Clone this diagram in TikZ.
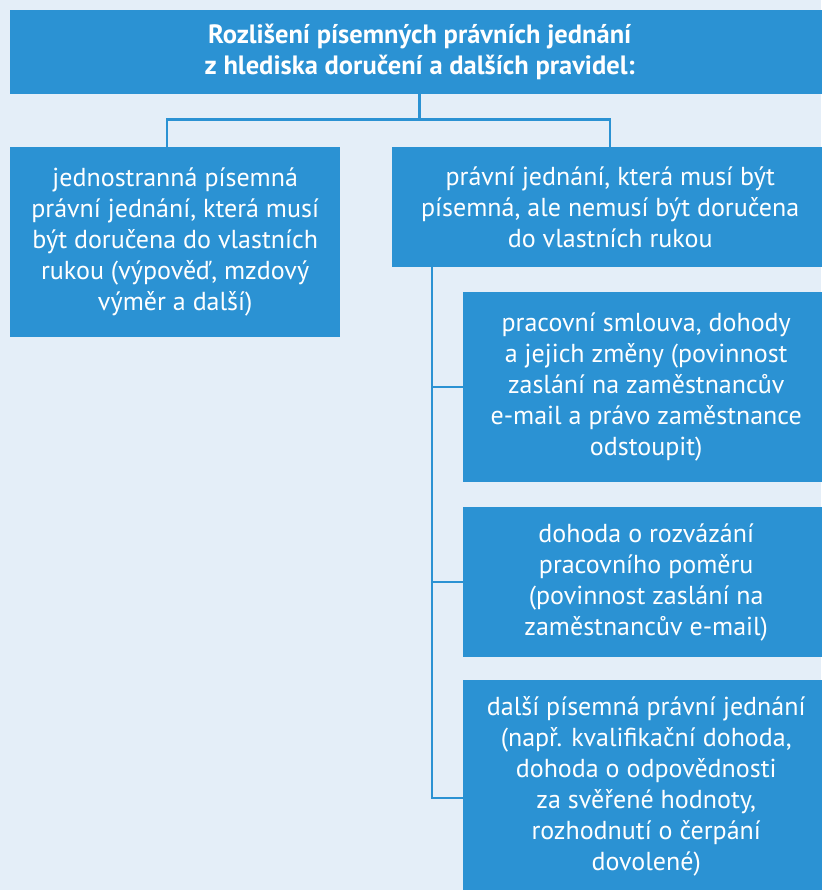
\documentclass[tikz,border=0pt]{standalone}
\usepackage{fontspec}
\setmainfont{PT Sans}
\definecolor{bg}{HTML}{E4EEF8}
\definecolor{boxblue}{HTML}{2B92D3}

\begin{document}
\begin{tikzpicture}[x=1pt, y=-1pt,
  box/.style={fill=boxblue, text=white, anchor=north west, inner sep=0pt,
    align=center, font=\fontsize{26}{31}\selectfont},
  link/.style={draw=boxblue, line width=2.5pt}]
  % background
  \useasboundingbox (0,0) rectangle (821,890);
  \fill[bg] (0,0) rectangle (821,890);

  % title
  \node[box, minimum width=819pt, minimum height=84pt,
    font=\bfseries\fontsize{26.5}{31}\selectfont] (title) at (10,10)
    {Rozlišení písemných právních jednání\\z hlediska doručení a dalších pravidel:};

  % two main kinds
  \node[box, minimum width=330pt, minimum height=190pt] (oneside) at (10,147)
    {jednostranná písemná\\právní jednání, která musí\\být doručena do vlastních\\rukou (výpověď, mzdový\\výměr a další)};
  \node[box, minimum width=436pt, minimum height=120pt] (written) at (392,147)
    {právní jednání, která musí být\\písemná, ale nemusí být doručena\\do vlastních rukou};

  % sub items
  \node[box, minimum width=366pt, minimum height=190pt] (contract) at (463,292)
    {pracovní smlouva, dohody\\a jejich změny (povinnost\\zaslání na zaměstnancův\\e-mail a právo zaměstnance\\odstoupit)};
  \node[box, minimum width=366pt, minimum height=150pt] (ending) at (463,507)
    {dohoda o rozvázání\\pracovního poměru\\(povinnost zaslání na\\zaměstnancův e-mail)};
  \node[box, minimum width=366pt, minimum height=212pt] (other) at (463,680)
    {další písemná právní jednání\\(např. kvalifikační dohoda,\\dohoda o odpovědnosti\\za svěřené hodnoty,\\rozhodnutí o čerpání\\dovolené)};

  % connectors
  \draw[link] (title.south) -- ++(0,25) coordinate (split);
  \draw[link] ([xshift=-8pt]oneside.north) |- (split) -| (written.north);
  \coordinate (trunk) at ([xshift=40pt]written.south west);
  \draw[link] (trunk) |- (contract.west);
  \draw[link] (trunk) |- (ending.west);
  \draw[link] (trunk) |- ([yshift=-12pt]other.west);
\end{tikzpicture}
\end{document}
